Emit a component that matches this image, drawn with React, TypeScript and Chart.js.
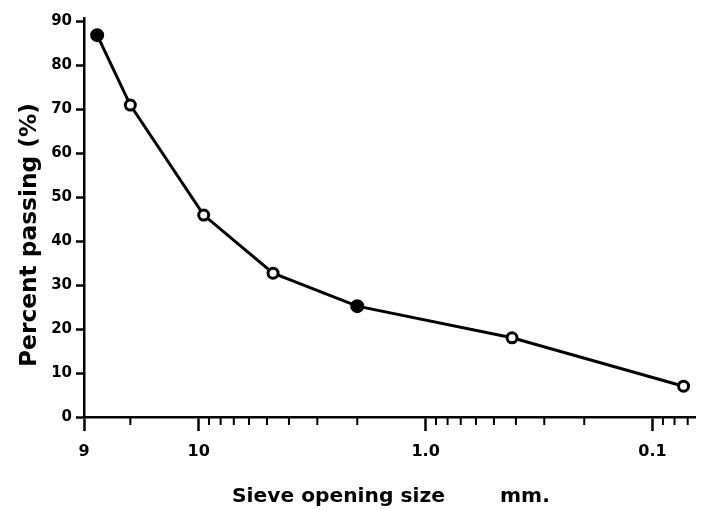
import React, { useEffect, useRef } from "react";
import { Chart, registerables } from "chart.js";

Chart.register(...registerables);

// Data
const SIEVE_SIZES_MM = [28, 20, 9.5, 4.7, 2.0, 0.416, 0.073];
const PERCENT_PASSING = [86.8, 70.9, 45.9, 32.7, 25.2, 18.0, 7.0];
const MARKER_FILLED = [true, false, false, false, true, false, false];

const X_TICKS = [32, 20, 10, 9, 8, 7, 6, 5, 4, 3, 2, 1, 0.9, 0.8, 0.7, 0.6, 0.5, 0.4, 0.3, 0.2, 0.1, 0.09, 0.08, 0.07];
const X_MAJOR = [32, 10, 1, 0.1];
const X_LABELS: Record<string, string> = { "32": "9", "10": "10", "1": "1.0", "0.1": "0.1" };
const Y_TICKS = [0, 10, 20, 30, 40, 50, 60, 70, 80, 90];

const Y_TITLE = "Percent passing (%)";
const X_TITLE = "Sieve opening size";
const X_UNIT = "mm.";

const FONT = '"DejaVu Sans", sans-serif';

function fitFont(ctx: CanvasRenderingContext2D, text: string, width: number) {
  ctx.font = `bold 20px ${FONT}`;
  const w = ctx.measureText(text).width;
  return (20 * width) / w;
}

const titlePlugin = {
  id: "manualTitles",
  afterDraw(chart: any) {
    const ctx: CanvasRenderingContext2D = chart.ctx;
    ctx.save();
    ctx.fillStyle = "#000";
    // y title
    const ys = fitFont(ctx, Y_TITLE, 264);
    ctx.font = `bold ${ys}px ${FONT}`;
    ctx.textAlign = "center";
    ctx.textBaseline = "alphabetic";
    ctx.translate(36, 235);
    ctx.rotate(-Math.PI / 2);
    ctx.fillText(Y_TITLE, 0, 0);
    ctx.setTransform(1, 0, 0, 1, 0, 0);
    // x title
    const xs = fitFont(ctx, X_TITLE, 213);
    ctx.font = `bold ${xs}px ${FONT}`;
    ctx.textAlign = "left";
    ctx.fillText(X_TITLE, 232, 502);
    ctx.fillText(X_UNIT, 500, 502);
    // minor x ticks
    const xs2 = chart.scales.x;
    const bottom = chart.chartArea.bottom;
    ctx.strokeStyle = "#000";
    ctx.lineWidth = 2;
    X_TICKS.forEach((v) => {
      if (X_MAJOR.includes(v)) return;
      const px = xs2.getPixelForValue(v);
      ctx.beginPath();
      ctx.moveTo(px, bottom);
      ctx.lineTo(px, bottom + 8);
      ctx.stroke();
    });
    ctx.restore();
  },
};

export default function App() {
  const ref = useRef<HTMLCanvasElement>(null);
  useEffect(() => {
    if (!ref.current) return;
    const chart = new Chart(ref.current, {
      type: "line",
      data: {
        datasets: [
          {
            data: SIEVE_SIZES_MM.map((x, i) => ({ x, y: PERCENT_PASSING[i] })),
            borderColor: "#000",
            borderWidth: 3,
            tension: 0,
            pointRadius: (c: any) => (MARKER_FILLED[c.dataIndex] ? 5.5 : 5),
            pointBorderWidth: 3,
            pointBorderColor: "#000",
            pointBackgroundColor: (c: any) => (MARKER_FILLED[c.dataIndex] ? "#000" : "#fff"),
          },
        ],
      },
      options: {
        animation: false,
        responsive: false,
        layout: { padding: { top: 18, right: 9, left: 0, bottom: 0 } },
        plugins: { legend: { display: false }, tooltip: { enabled: false } },
        scales: {
          x: {
            type: "logarithmic",
            reverse: true,
            min: 0.065,
            max: 32,
            afterBuildTicks: (s: any) => {
              s.ticks = X_TICKS.map((v) => ({ value: v, major: X_MAJOR.includes(v) }));
            },
            afterFit: (s: any) => {
              s.height = 93;
            },
            ticks: {
              autoSkip: false,
              maxRotation: 0,
              padding: 11,
              color: "#000",
              font: { family: FONT, weight: "bold", size: 16 },
              callback: (v: any) => X_LABELS[String(v)] ?? "",
            },
            grid: {
              display: true,
              drawOnChartArea: false,
              drawTicks: true,
              tickLength: 14,
              tickWidth: 2.5,
              tickColor: (c: any) =>
                c.tick && X_MAJOR.includes(c.tick.value) ? "#000" : "rgba(0,0,0,0)",
            },
            border: { display: true, color: "#000", width: 2.5 },
          },
          y: {
            type: "linear",
            min: 0,
            max: 90.7,
            afterBuildTicks: (s: any) => {
              s.ticks = Y_TICKS.map((v) => ({ value: v }));
            },
            afterFit: (s: any) => {
              s.width = 84;
            },
            ticks: {
              padding: 4,
              color: "#000",
              font: { family: FONT, weight: "bold", size: 15 },
            },
            grid: {
              display: true,
              drawOnChartArea: false,
              drawTicks: true,
              tickLength: 8,
              tickWidth: 2.5,
              tickColor: "#000",
            },
            border: { display: true, color: "#000", width: 2.5 },
          },
        },
      },
      plugins: [titlePlugin],
    } as any);
    return () => chart.destroy();
  }, []);
  return (
    <div style={{ position: "absolute", left: 0, top: 0, width: 704, height: 510, background: "#fff" }}>
      <canvas ref={ref} width={704} height={510} style={{ display: "block" }} />
    </div>
  );
}
